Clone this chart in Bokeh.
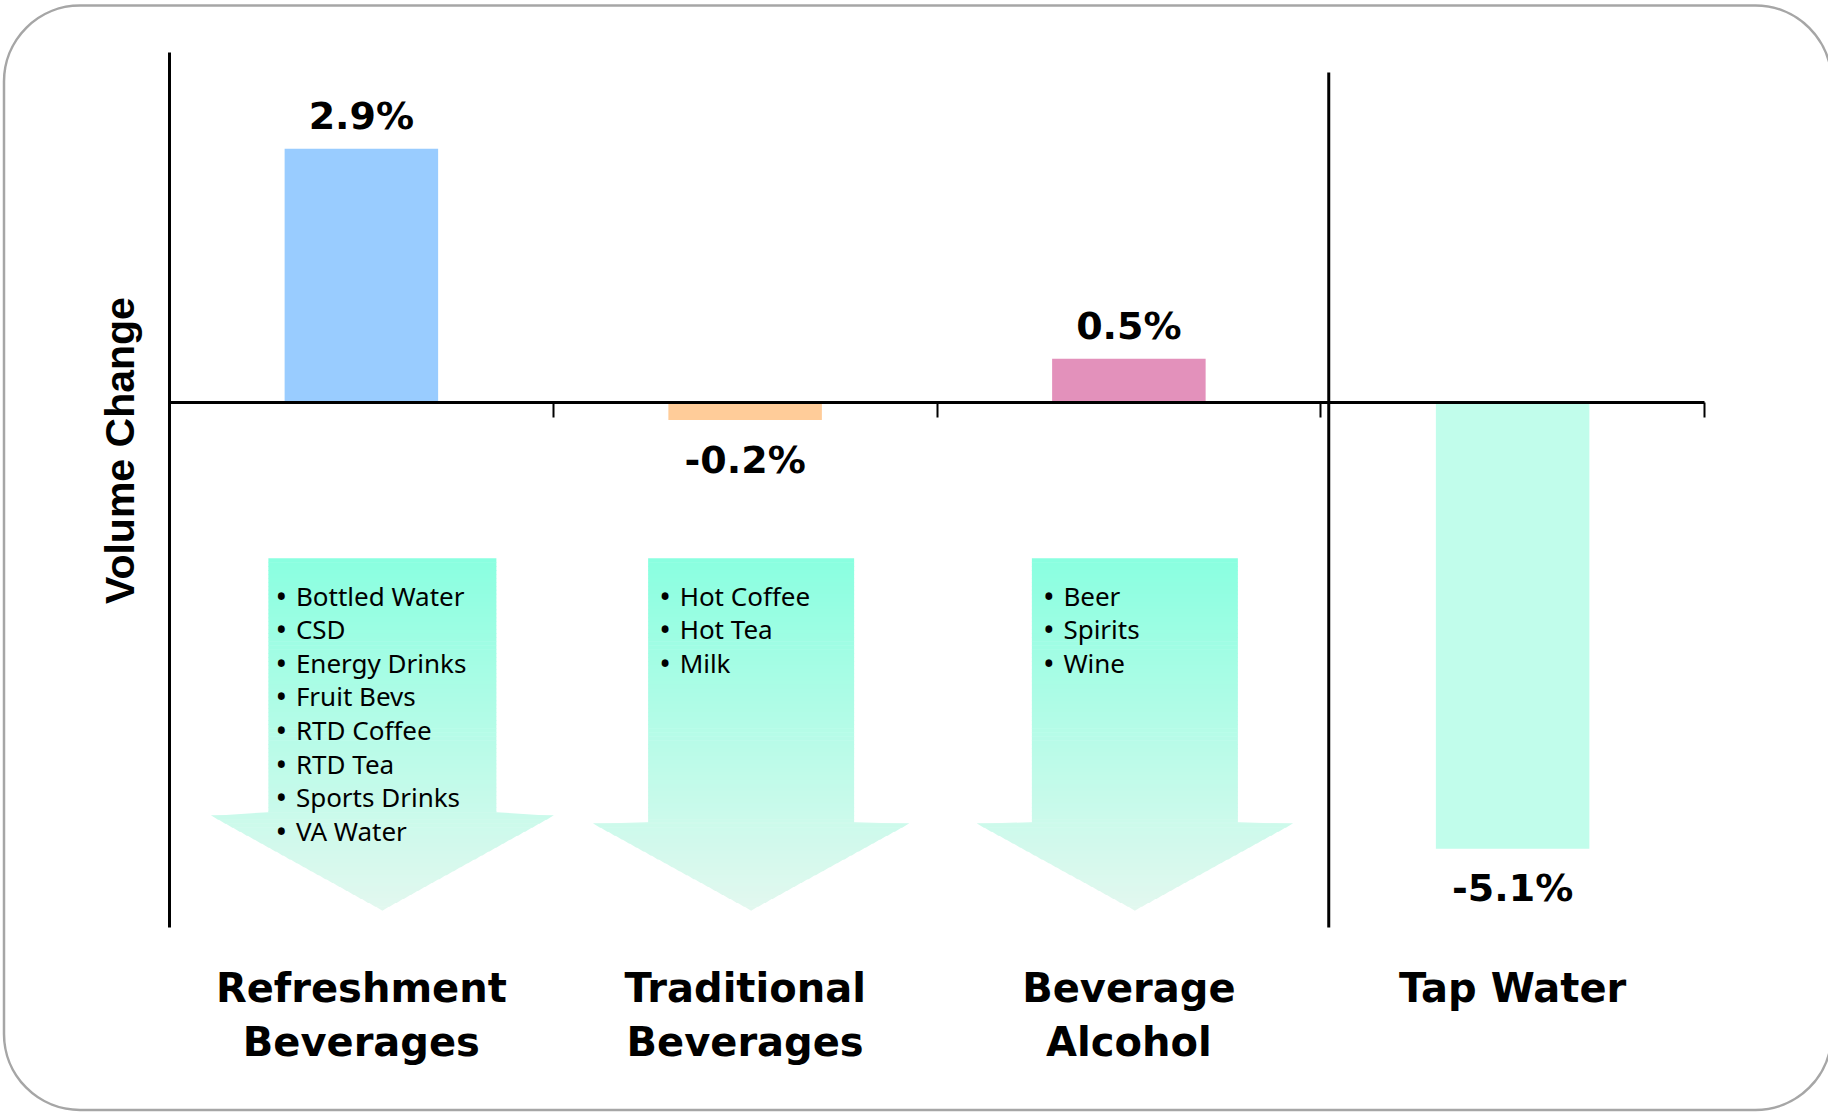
import numpy as np
from bokeh.plotting import figure
from bokeh.models import Range1d, LinearAxis, FixedTicker, BoxAnnotation
from bokeh.core.properties import value
from bokeh.embed import file_html
from bokeh.resources import INLINE

# ---------------- data ----------------
categories = ["Refreshment\nBeverages", "Traditional\nBeverages", "Beverage\nAlcohol", "Tap Water"]
changes = [2.9, -0.2, 0.5, -5.1]
value_labels = ["2.9%", "-0.2%", "0.5%", "-5.1%"]
bar_colors = ["#99CCFF", "#FFCC99", "#E391BB", "#C1FDEB"]
segment_items = [
    ["Bottled Water", "CSD", "Energy Drinks", "Fruit Bevs", "RTD Coffee", "RTD Tea", "Sports Drinks", "VA Water"],
    ["Hot Coffee", "Hot Tea", "Milk"],
    ["Beer", "Spirits", "Wine"],
]
y_axis_title = "Volume Change"

# ---------------- layout (pixels) ----------------
W, H = 1828, 1112
FRAME_L, FRAME_R, FRAME_T, FRAME_B = 169, 1704, 52, 927
Y_MIN, Y_MAX = -6.0, 4.0
X_MIN, X_MAX = -0.5, len(categories) - 0.5
SX = (FRAME_R - FRAME_L) / (X_MAX - X_MIN)
SY = (FRAME_B - FRAME_T) / (Y_MAX - Y_MIN)


def dx(px):
    return X_MIN + (px - FRAME_L) / SX


def dy(py):
    return Y_MAX - (py - FRAME_T) / SY


def px_x(x):
    return FRAME_L + (x - X_MIN) * SX


positions = list(range(len(categories)))

p = figure(width=W, height=H, x_range=Range1d(dx(0), dx(W)), y_range=Range1d(dy(H), dy(0)),
           x_axis_location=None, y_axis_location=None, toolbar_location=None,
           output_backend="svg", min_border=0, outline_line_color=None,
           background_fill_color="white", border_fill_color="white")
p.grid.visible = False

# rounded frame
p.add_layout(BoxAnnotation(left=dx(3.5), right=dx(1831), top=dy(5), bottom=dy(1109.5),
                           fill_color=None, fill_alpha=0, line_color="#A6A6A6", line_alpha=1.0,
                           line_width=2.5, border_radius=76, level="underlay"))

# gradient block arrows (drawn as thin horizontal strips)
arrow_off_px = [21, 6, 6]
shaft_half_px = [114, 103, 103]
head_half_px = [177, 160, 160]
head_top_px = [812, 822, 822]
ARROW_TOP, ARROW_TIP = 558, 910
c_top = np.array([138, 255, 224])
c_bot = np.array([226, 248, 239])

xs, ys, cols = [], [], []
for k in range(len(segment_items)):
    cx = px_x(positions[k]) + arrow_off_px[k]
    sw, hw, hy = shaft_half_px[k], head_half_px[k], head_top_px[k]

    def half(py):
        if py <= hy:
            return sw
        return hw * (ARROW_TIP - py) / (ARROW_TIP - hy)

    edges = sorted(set(list(np.linspace(ARROW_TOP, ARROW_TIP, 90)) + [hy]))
    for y0, y1 in zip(edges[:-1], edges[1:]):
        h0 = sw if y0 < hy else half(y0)
        h1 = sw if y1 <= hy else half(y1)
        t = ((y0 + y1) / 2 - ARROW_TOP) / (ARROW_TIP - ARROW_TOP)
        c = (c_top + (c_bot - c_top) * t).round().astype(int)
        cols.append("#%02x%02x%02x" % tuple(c))
        xs.append([dx(cx - h0), dx(cx + h0), dx(cx + h1), dx(cx - h1)])
        ys.append([dy(y0 - 0.3), dy(y0 - 0.3), dy(y1 + 0.3), dy(y1 + 0.3)])
p.patches(xs, ys, fill_color=cols, line_color=None)

# bullet lists
bx, tx, ty, tt = [], [], [], []
for k, items in enumerate(segment_items):
    c = px_x(positions[k])
    for j, it in enumerate(items):
        base = 595 + 33.6 * j
        bx.append(dx(c - 80))
        tx.append(dx(c - 65.5))
        ty.append(dy(base))
        tt.append(it)
p.text(x=bx, y=ty, text=["•"] * len(bx), text_font=value("Noto Sans"), text_font_size="31px",
       text_align="center", text_baseline="alphabetic", text_color="black")
p.text(x=tx, y=ty, text=tt, text_font=value("Noto Sans"), text_font_size="26px",
       text_align="left", text_baseline="alphabetic", text_color="black")

# bars
p.vbar(x=positions, top=changes, bottom=0, width=0.4, fill_color=bar_colors, line_color=None)

# value labels
vy = [v + 33 / SY if v >= 0 else v - 39.5 / SY for v in changes]
p.text(x=positions, y=vy, text=value_labels, text_font=value("DejaVu Sans"), text_font_style="bold",
       text_font_size="38px", text_align="center", text_baseline="alphabetic", text_color="black")

# category labels (below)
cx_, cy_, ct_ = [], [], []
for k, lab in enumerate(categories):
    for i, line in enumerate(lab.split("\n")):
        cx_.append(positions[k])
        cy_.append(dy(987 + 54 * i))
        ct_.append(line)
p.text(x=cx_, y=cy_, text=ct_, text_font=value("DejaVu Sans"), text_font_style="bold",
       text_font_size="40px", text_align="center", text_baseline="alphabetic", text_color="black")

# y-axis title
p.text(x=[dx(119)], y=[dy(450)], text=[y_axis_title], angle=np.pi / 2,
       text_font=value("Liberation Sans"), text_font_style="bold", text_font_size="41px",
       text_align="center", text_baseline="alphabetic", text_color="black")

# divider between beverage groups and tap water
div_x = 2.5 + 8 / SX
p.segment(x0=[div_x], y0=[Y_MIN], x1=[div_x], y1=[dy(72)], line_color="black", line_width=3)

# axes
xaxis = LinearAxis(fixed_location=0, bounds=(X_MIN, X_MAX),
                   ticker=FixedTicker(ticks=[k + 0.5 for k in positions]),
                   axis_line_color="black", axis_line_width=3,
                   major_tick_line_color="black", major_tick_line_width=2,
                   major_tick_in=0, major_tick_out=15,
                   minor_tick_line_color=None, major_label_text_color=None)
p.add_layout(xaxis, "below")
yaxis = LinearAxis(fixed_location=X_MIN, bounds=(Y_MIN, Y_MAX), ticker=FixedTicker(ticks=[]),
                   axis_line_color="black", axis_line_width=3,
                   major_tick_line_color=None, minor_tick_line_color=None,
                   major_label_text_color=None)
p.add_layout(yaxis, "left")

open("out.html", "w").write(file_html(p, INLINE))
